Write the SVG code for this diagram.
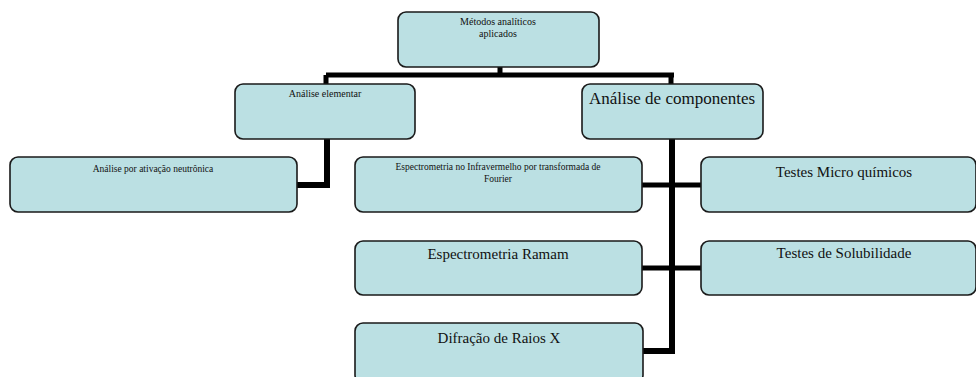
<svg xmlns="http://www.w3.org/2000/svg" width="976" height="377" viewBox="0 0 976 377">
<style>
.box{fill:#bbe0e3;stroke:#1a1a1a;stroke-width:1.6}
.t{font-family:"Liberation Serif","Times New Roman",serif;fill:#111;text-anchor:middle}
.c{fill:none;stroke:#000;stroke-width:5;stroke-linejoin:miter}
.v{fill:none;stroke:#000;stroke-width:6;stroke-linejoin:miter}
</style>
<g id="connectors">
<path class="c" d="M500,67 V75 M326,75 H674 M326,75 V85 M671,75 V85"/>
<path class="v" d="M327,139 V185 H297"/>
<path class="v" d="M672,139 V351 H643"/>
<path class="c" d="M642,185 H702"/>
<path class="c" d="M642,268 H702"/>
</g>
<g id="n0">
<rect class="box" x="398" y="12" width="201" height="55" rx="8"/>
<text class="t" x="498" y="25" font-size="10">Métodos analíticos</text>
<text class="t" x="498" y="37" font-size="10">aplicados</text>
</g>
<g id="n1">
<rect class="box" x="235" y="84" width="180" height="55" rx="8"/>
<text class="t" x="325" y="97" font-size="10">Análise elementar</text>
</g>
<g id="n2">
<rect class="box" x="582" y="84" width="181" height="55" rx="8"/>
<text class="t" x="672" y="104" font-size="17">Análise de componentes</text>
</g>
<g id="n3">
<rect class="box" x="10" y="157" width="287" height="55" rx="8"/>
<text class="t" x="153" y="172" font-size="9.5">Análise por ativação neutrônica</text>
</g>
<g id="n4">
<rect class="box" x="355" y="157" width="287" height="55" rx="8"/>
<text class="t" x="498" y="170" font-size="9.5">Espectrometria no Infravermelho por transformada de</text>
<text class="t" x="498" y="182" font-size="9.5">Fourier</text>
</g>
<g id="n5">
<rect class="box" x="701" y="157" width="275" height="55" rx="8"/>
<text class="t" x="844" y="177" font-size="15">Testes Micro químicos</text>
</g>
<g id="n6">
<rect class="box" x="355" y="241" width="287" height="54" rx="8"/>
<text class="t" x="498" y="259" font-size="15">Espectrometria Ramam</text>
</g>
<g id="n7">
<rect class="box" x="701" y="241" width="275" height="54" rx="8"/>
<text class="t" x="844" y="258" font-size="15">Testes de Solubilidade</text>
</g>
<g id="n8">
<rect class="box" x="355" y="323" width="288" height="60" rx="8"/>
<text class="t" x="499" y="343" font-size="15">Difração de Raios X</text>
</g>
</svg>
